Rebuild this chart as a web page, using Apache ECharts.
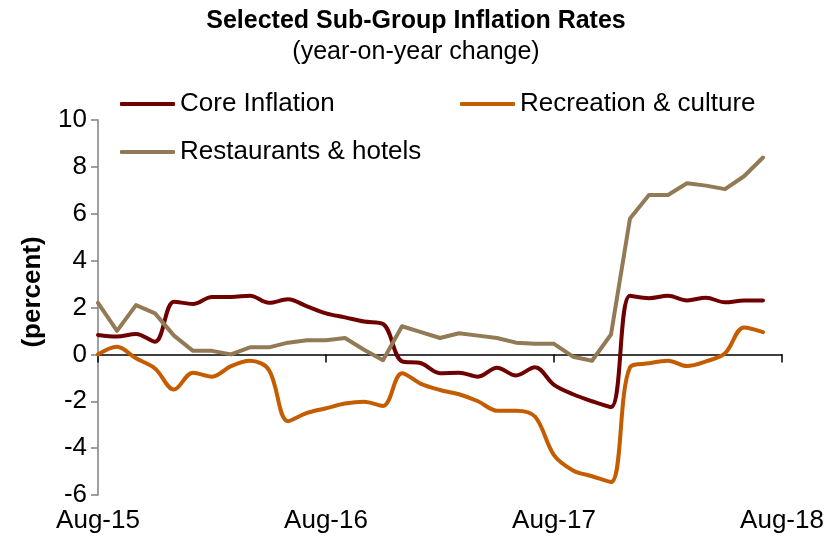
<!DOCTYPE html>
<html>
<head>
<meta charset="utf-8">
<script src="https://cdn.jsdelivr.net/npm/echarts@6/dist/echarts.min.js"></script>
<style>
  html, body { margin: 0; padding: 0; background: #fff; }
  #chart { width: 832px; height: 542px; }
</style>
</head>
<body>
<div id="chart"></div>
<script>
const months = [
  'Aug-15','Sep-15','Oct-15','Nov-15','Dec-15','Jan-16','Feb-16','Mar-16','Apr-16','May-16','Jun-16','Jul-16',
  'Aug-16','Sep-16','Oct-16','Nov-16','Dec-16','Jan-17','Feb-17','Mar-17','Apr-17','May-17','Jun-17','Jul-17',
  'Aug-17','Sep-17','Oct-17','Nov-17','Dec-17','Jan-18','Feb-18','Mar-18','Apr-18','May-18','Jun-18','Jul-18',
  'Aug-18'
];
const coreInflation = [0.83,0.76,0.87,0.54,2.25,2.15,2.45,2.45,2.5,2.2,2.35,2.05,1.75,1.58,1.4,1.3,-0.3,-0.38,-0.8,-0.78,-0.95,-0.57,-0.9,-0.55,-1.3,-1.7,-2.0,-2.25,2.5,2.4,2.5,2.3,2.42,2.22,2.3,2.3];
const recreationCulture = [0.0,0.33,-0.17,-0.6,-1.5,-0.78,-0.95,-0.5,-0.27,-0.67,-2.85,-2.5,-2.3,-2.1,-2.02,-2.2,-0.8,-1.26,-1.52,-1.7,-2.0,-2.4,-2.4,-2.65,-4.3,-4.95,-5.2,-5.45,-0.55,-0.38,-0.27,-0.5,-0.3,0.05,1.15,0.95];
const restaurantsHotels = [2.2,1.0,2.1,1.75,0.8,0.15,0.15,0.0,0.3,0.3,0.5,0.6,0.6,0.7,0.2,-0.25,1.2,0.95,0.7,0.9,0.8,0.7,0.5,0.45,0.45,-0.1,-0.27,0.85,5.8,6.8,6.8,7.3,7.2,7.05,7.6,8.4];

const seriesNames = ['Core Inflation', 'Recreation & culture', 'Restaurants & hotels'];
const colors = ['#6E0000', '#C45C00', '#917A55'];
const font = '"Liberation Sans", Arial, sans-serif';

const chart = echarts.init(document.getElementById('chart'), null, { renderer: 'canvas' });

const legendBase = {
  orient: 'horizontal',
  icon: 'roundRect',
  itemWidth: 55,
  itemHeight: 4,
  itemGap: 0,
  padding: 0,
  selectedMode: false,
  textStyle: { fontFamily: font, fontSize: 26, color: '#000' }
};

chart.setOption({
  animation: false,
  backgroundColor: '#fff',
  color: colors,
  title: {
    left: 'center',
    top: 4,
    text: 'Selected Sub-Group Inflation Rates',
    subtext: '(year-on-year change)',
    itemGap: 6,
    textStyle: { fontFamily: font, fontSize: 25, fontWeight: 'bold', color: '#000' },
    subtextStyle: { fontFamily: font, fontSize: 25, color: '#000' }
  },
  legend: [
    Object.assign({}, legendBase, { data: [seriesNames[0]], left: 120, top: 91 }),
    Object.assign({}, legendBase, { data: [seriesNames[1]], left: 460, top: 91 }),
    Object.assign({}, legendBase, { data: [seriesNames[2]], left: 120, top: 139 })
  ],
  graphic: [{
    type: 'text',
    x: 33,
    y: 292,
    rotation: Math.PI / 2,
    style: {
      text: '(percent)',
      font: 'bold 26px "Liberation Sans", Arial, sans-serif',
      fill: '#000',
      textAlign: 'center',
      textVerticalAlign: 'middle'
    }
  }],
  grid: { left: 98, right: 50, top: 120, bottom: 47, containLabel: false },
  xAxis: [
    {
      type: 'category',
      data: months,
      boundaryGap: false,
      axisLine: { onZero: true, lineStyle: { color: '#000', width: 1.5 } },
      axisTick: { show: true, interval: 11, length: 8, lineStyle: { color: '#000', width: 1.5 } },
      axisLabel: { show: false },
      splitLine: { show: false }
    },
    {
      type: 'category',
      data: months,
      boundaryGap: false,
      position: 'bottom',
      axisLine: { show: false, onZero: false },
      axisTick: { show: false },
      axisLabel: { show: true, interval: 11, margin: 13, fontFamily: font, fontSize: 26, color: '#000' },
      splitLine: { show: false }
    }
  ],
  yAxis: {
    type: 'value',
    min: -6,
    max: 10,
    interval: 2,
    axisLine: { show: true, lineStyle: { color: '#808080', width: 1.5 } },
    axisTick: { show: true, length: 7, lineStyle: { color: '#808080', width: 1.5 } },
    axisLabel: { fontFamily: font, fontSize: 26, color: '#000', margin: 11 },
    splitLine: { show: false }
  },
  series: [
    {
      name: seriesNames[0], type: 'line', data: coreInflation, xAxisIndex: 0,
      smooth: 0.35, showSymbol: false, symbol: 'none',
      lineStyle: { color: colors[0], width: 4, cap: 'round', join: 'round' }
    },
    {
      name: seriesNames[1], type: 'line', data: recreationCulture, xAxisIndex: 0,
      smooth: 0.35, showSymbol: false, symbol: 'none',
      lineStyle: { color: colors[1], width: 4, cap: 'round', join: 'round' }
    },
    {
      name: seriesNames[2], type: 'line', data: restaurantsHotels, xAxisIndex: 0,
      smooth: false, showSymbol: false, symbol: 'none',
      lineStyle: { color: colors[2], width: 4, cap: 'round', join: 'round' }
    }
  ]
});
</script>
</body>
</html>
